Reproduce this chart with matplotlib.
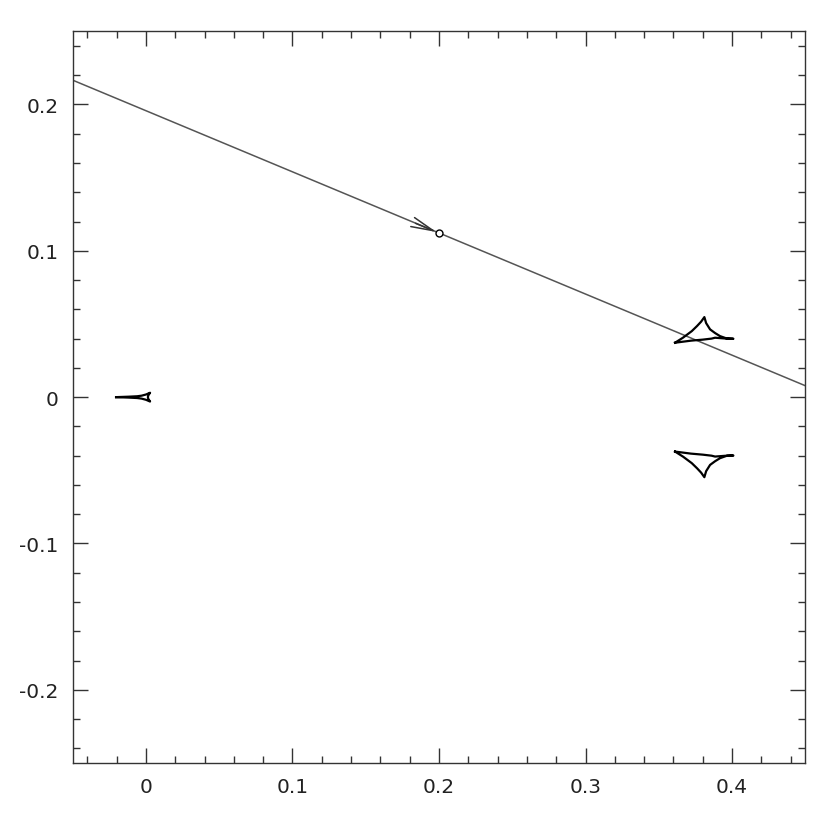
import numpy as np
import matplotlib
matplotlib.use("Agg")
import matplotlib.pyplot as plt
from matplotlib.ticker import MultipleLocator

# source trajectory (straight line across the frame)
traj_x = [-0.05, 0.45]
traj_y = [0.2166, 0.0078]

# source position marker
src_x = [0.2]
src_y = [0.1121]

# planetary caustic, upper
cu_x = [0.3611, 0.3666, 0.3725, 0.3761, 0.3789, 0.3811, 0.3823, 0.3850,
        0.3884, 0.3918, 0.3966, 0.4009, 0.3950, 0.3884, 0.3860, 0.3800,
        0.3720, 0.3611]
cu_y = [0.0372, 0.0407, 0.0451, 0.0486, 0.0516, 0.0547, 0.0506, 0.0463,
        0.0438, 0.0417, 0.0400, 0.0399, 0.0401, 0.0406, 0.0400, 0.0393,
        0.0386, 0.0372]

# planetary caustic, lower
cl_x = [0.3611, 0.3666, 0.3725, 0.3761, 0.3789, 0.3811, 0.3823, 0.3850,
        0.3884, 0.3918, 0.3966, 0.4009, 0.3950, 0.3884, 0.3860, 0.3800,
        0.3720, 0.3611]
cl_y = [-0.0372, -0.0407, -0.0451, -0.0486, -0.0516, -0.0547, -0.0506, -0.0463,
        -0.0438, -0.0417, -0.0400, -0.0399, -0.0401, -0.0406, -0.0400, -0.0393,
        -0.0386, -0.0372]

# central caustic
cc_x = [-0.0204, -0.0120, -0.0060, -0.0030, 0.0000, 0.0028, 0.0016, 0.0013,
        0.0016, 0.0028, 0.0000, -0.0030, -0.0060, -0.0120, -0.0204]
cc_y = [0.0, 0.0003, 0.0006, 0.0010, 0.0018, 0.0030, 0.0012, 0.0,
        -0.0012, -0.0030, -0.0018, -0.0010, -0.0006, -0.0003, 0.0]

# arrow start (a bit behind the source along the trajectory)
arrow_from = (0.184, 0.1188)

fig = plt.figure(figsize=(8.31, 8.28), dpi=100)
ax = fig.add_axes([0.0875, 0.0773, 0.8816, 0.8837])

ax.plot(traj_x, traj_y, color="#555555", lw=1.1)
ax.plot(cu_x, cu_y, color="black", lw=1.6)
ax.plot(cl_x, cl_y, color="black", lw=1.6)
ax.plot(cc_x, cc_y, color="black", lw=1.6)
ax.plot(src_x, src_y, "o", ms=5, mfc="white", mec="black", mew=1.0)
ax.annotate("", xy=(src_x[0], src_y[0]), xytext=arrow_from,
            arrowprops=dict(arrowstyle="->,head_length=1.6,head_width=0.35",
                            color="#333333", lw=1.1, mutation_scale=10,
                            shrinkA=0, shrinkB=2))

ax.set_xlim(-0.05, 0.45)
ax.set_ylim(-0.25, 0.25)
ax.xaxis.set_major_locator(MultipleLocator(0.1))
ax.xaxis.set_minor_locator(MultipleLocator(0.02))
ax.yaxis.set_major_locator(MultipleLocator(0.1))
ax.yaxis.set_minor_locator(MultipleLocator(0.02))
ax.xaxis.set_major_formatter(lambda v, p: "0" if abs(v) < 1e-9 else f"{v:.1f}")
ax.yaxis.set_major_formatter(lambda v, p: "0" if abs(v) < 1e-9 else f"{v:.1f}")

ax.tick_params(which="both", direction="in", top=True, right=True,
               color="#333333", width=1.0)
ax.tick_params(which="major", length=10.6, pad=10, labelsize=14.5,
               labelcolor="#222222")
ax.tick_params(which="minor", length=4.8)
for s in ax.spines.values():
    s.set_color("#333333")
    s.set_linewidth(1.0)

fig.savefig("out.png", dpi=100)
